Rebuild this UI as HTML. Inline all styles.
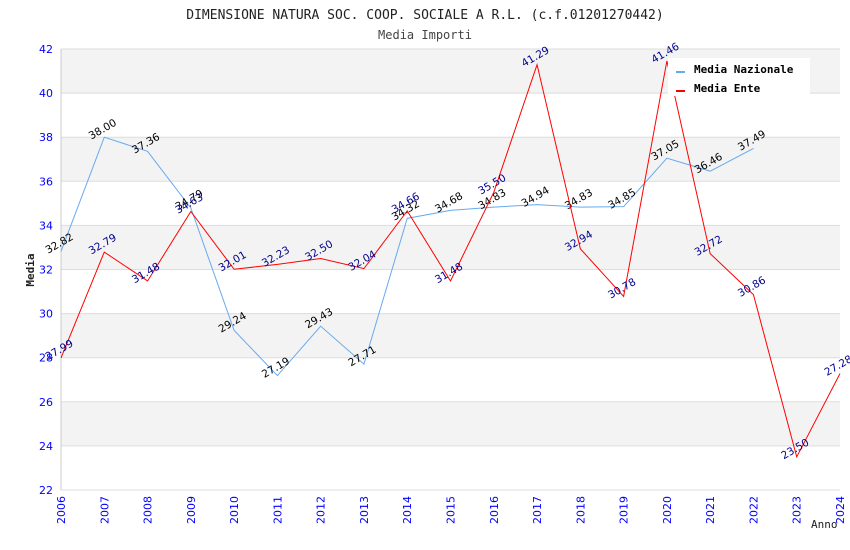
<!DOCTYPE html>
<html><head><meta charset="utf-8">
<style>
body{margin:0;background:#fff;}
svg{display:block;}
text{font-family:"DejaVu Sans Mono","Liberation Mono",monospace;}
.tick{font-family:"DejaVu Sans","Liberation Sans",sans-serif;font-size:11px;fill:#0000ff;}
.lab{font-family:"DejaVu Sans","Liberation Sans",sans-serif;font-size:10.5px;}
</style></head>
<body>
<svg id="chart" width="850" height="550" xmlns="http://www.w3.org/2000/svg">
<text x="425" y="19" text-anchor="middle" font-size="13" fill="#222">DIMENSIONE NATURA SOC. COOP. SOCIALE A R.L. (c.f.01201270442)</text>
<text x="425" y="39" text-anchor="middle" font-size="12" fill="#444">Media Importi</text>
<text x="34" y="270" text-anchor="middle" font-size="11" font-weight="bold" fill="#222" transform="rotate(-90 34 270)">Media</text>
<text x="811" y="528" font-size="11" fill="#222">Anno</text>
<g id="plot"></g>
</svg>
<script>
const years=[2006,2007,2008,2009,2010,2011,2012,2013,2014,2015,2016,2017,2018,2019,2020,2021,2022,2023,2024];
const nazionale=[32.82,38.00,37.36,34.79,29.24,27.19,29.43,27.71,34.32,34.68,34.83,34.94,34.83,34.85,37.05,36.46,37.49];
const ente=[27.99,32.79,31.48,34.63,32.01,32.23,32.50,32.04,34.66,31.48,35.50,41.29,32.94,30.78,41.46,32.72,30.86,23.50,27.28];
const yTicks=[22,24,26,28,30,32,34,36,38,40,42];
const X0=61,X1=840,Y0=490,Y1=49,YMIN=22,YMAX=42;
const NS="http://www.w3.org/2000/svg";
const g=document.getElementById('plot');
function x(i){return X0+(X1-X0)*i/(years.length-1);}
function y(v){return Y0-(v-YMIN)/(YMAX-YMIN)*(Y0-Y1);}
function mk(t,a){const e=document.createElementNS(NS,t);for(const k in a)e.setAttribute(k,a[k]);g.appendChild(e);return e;}
for(let i=0;i<yTicks.length-1;i++){
  const r=mk('rect',{x:X0,y:y(yTicks[i+1]),width:X1-X0,height:y(yTicks[i])-y(yTicks[i+1]),fill:(i%2===0)?'#ffffff':'#f3f3f3'});
  
  
}
yTicks.forEach(v=>{
  const l=mk('line',{x1:X0,x2:X1,y1:y(v),y2:y(v),stroke:'#dddddd','stroke-width':1});
  
  
  const t=mk('text',{x:X0-8,y:y(v)+4,'text-anchor':'end',class:'tick'});
  t.textContent=v;
  
  
});
const ax=mk('line',{x1:X0,x2:X0,y1:Y1,y2:Y0,stroke:'#ccc'});


years.forEach((yr,i)=>{
  const t=mk('text',{x:0,y:0,class:'tick','text-anchor':'end',transform:`translate(${x(i)+4},${Y0+6}) rotate(-90)`});
  t.textContent=yr;
  
  
});
function series(arr,color,name,labColor){
  const p=mk('polyline',{points:arr.map((v,i)=>x(i)+','+y(v)).join(' '),fill:'none',stroke:color,'stroke-width':1});
  
  
  arr.forEach((v,i)=>{
    const t=mk('text',{x:0,y:0,class:'lab',fill:labColor,'text-anchor':'middle',transform:`translate(${x(i)},${y(v)-5}) rotate(-30)`});
    t.textContent=v.toFixed(2);
    
    
  });
}
series(nazionale,'#66aaee','nazionale','#000');
series(ente,'#ff0000','ente','#00008b');
const lg=mk('rect',{x:668,y:58,width:142,height:38,fill:'#fff'});


[['Media Nazionale','#66aaee',72],['Media Ente','#ff0000',91]].forEach(d=>{
  const r=mk('rect',{x:676,y:d[2]-1,width:9,height:2,fill:d[1]});
  
  
  const t=mk('text',{x:694,y:d[2]+1,'font-size':11,'font-weight':'bold',fill:'#000'});
  t.textContent=d[0];
  
  
});
</script>
</body></html>
